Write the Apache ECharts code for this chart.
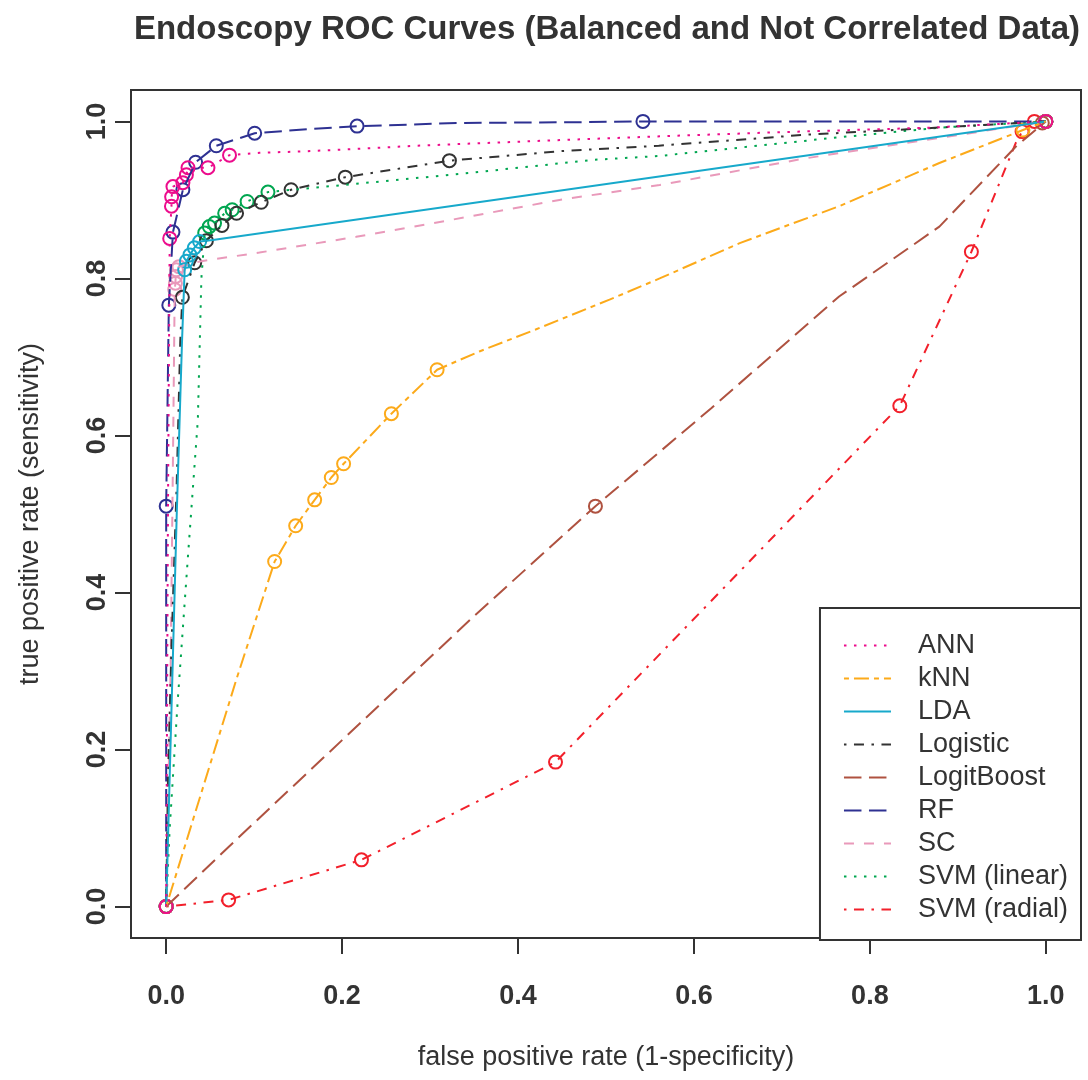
<!DOCTYPE html>
<html>
<head>
<meta charset="utf-8">
<script src="https://cdn.jsdelivr.net/npm/echarts@6/dist/echarts.min.js"></script>
<style>
html,body{margin:0;padding:0;background:#fff;}
#chart{width:1088px;height:1080px;}
</style>
</head>
<body>
<div id="chart"></div>
<script>
// ---- data (false positive rate, true positive rate) ----
const methodNames = ['ANN','kNN','LDA','Logistic','LogitBoost','RF','SC','SVM (linear)','SVM (radial)'];
const tickValues = [0, 0.2, 0.4, 0.6, 0.8, 1.0];

const annCurve = [[0,0],[0.002,0.5],[0.004,0.851],[0.006,0.892],[0.0062,0.904],[0.0077,0.917],[0.019,0.922],[0.023,0.932],[0.0248,0.941],[0.0475,0.941],[0.072,0.957],[0.106,0.96],[0.16,0.962],[0.235,0.966],[0.284,0.969],[0.42,0.975],[0.561,0.981],[0.69,0.986],[0.868,0.992],[1,1]];
const annCircles = [[0,0],[0.004,0.851],[0.006,0.892],[0.0062,0.904],[0.0077,0.917],[0.019,0.922],[0.023,0.932],[0.0248,0.941],[0.0475,0.941],[0.072,0.957],[1,1]];

const knnCurve = [[0,0],[0.04,0.145],[0.08,0.29],[0.1233,0.4395],[0.1472,0.485],[0.1688,0.518],[0.1877,0.5465],[0.2017,0.564],[0.256,0.6277],[0.308,0.6837],[0.356,0.707],[0.42,0.735],[0.504,0.773],[0.561,0.80],[0.652,0.845],[0.765,0.892],[0.879,0.947],[0.974,0.989],[1,1]];
const knnCircles = [[0,0],[0.1233,0.4395],[0.1472,0.485],[0.1688,0.518],[0.1877,0.5465],[0.2017,0.564],[0.256,0.6277],[0.308,0.6837],[0.974,0.989],[1,1]];

const ldaCurve = [[0,0],[0.006,0.25],[0.012,0.5],[0.018,0.72],[0.021,0.811],[0.023,0.822],[0.027,0.830],[0.032,0.839],[0.038,0.847],[0.053,0.849],[1,1]];
const ldaCircles = [[0,0],[0.021,0.811],[0.023,0.822],[0.027,0.830],[0.032,0.839],[0.038,0.847],[1,1]];

const logisticCurve = [[0,0],[0.002,0.16],[0.006,0.33],[0.012,0.54],[0.016,0.72],[0.0184,0.776],[0.0324,0.820],[0.0457,0.848],[0.0634,0.8675],[0.08,0.883],[0.108,0.897],[0.142,0.913],[0.2036,0.929],[0.322,0.95],[0.447,0.962],[0.56,0.969],[0.727,0.983],[0.86,0.991],[1,1]];
const logisticCircles = [[0,0],[0.0184,0.776],[0.0324,0.820],[0.0457,0.848],[0.0634,0.8675],[0.08,0.883],[0.108,0.897],[0.142,0.913],[0.2036,0.929],[0.322,0.95],[1,1]];

const logitBoostCurve = [[0,0],[0.07,0.075],[0.2,0.212],[0.35,0.37],[0.488,0.51],[0.62,0.635],[0.765,0.777],[0.879,0.866],[0.966,0.968],[1,1]];
const logitBoostCircles = [[0,0],[0.488,0.51],[0.996,0.998],[1,1]];

const rfCurve = [[0,0],[0,0.51],[0.003,0.766],[0.0077,0.859],[0.019,0.913],[0.0335,0.948],[0.057,0.969],[0.1006,0.985],[0.16,0.99],[0.217,0.994],[0.28,0.996],[0.33,0.998],[0.47,0.999],[0.542,1.0],[1,1]];
const rfCircles = [[0,0],[0,0.51],[0.003,0.766],[0.0077,0.859],[0.019,0.913],[0.0335,0.948],[0.057,0.969],[0.1006,0.985],[0.217,0.994],[0.542,1.0],[1,1]];

const scCurve = [[0,0],[0.005,0.3],[0.008,0.6],[0.0097,0.786],[0.0105,0.794],[0.0108,0.8025],[0.0116,0.811],[0.0145,0.815],[0.04,0.822],[0.106,0.833],[0.216,0.853],[0.326,0.875],[0.447,0.90],[0.561,0.919],[0.727,0.953],[0.879,0.979],[1,1]];
const scCircles = [[0,0],[0.0097,0.786],[0.0105,0.794],[0.0108,0.8025],[0.0116,0.811],[0.0145,0.815],[1,1]];

const svmLinCurve = [[0,0],[0.004,0.1],[0.013,0.26],[0.025,0.45],[0.036,0.62],[0.04,0.80],[0.042,0.83],[0.0438,0.858],[0.049,0.866],[0.055,0.8705],[0.0665,0.883],[0.075,0.8875],[0.092,0.898],[0.1157,0.910],[0.144,0.913],[0.22,0.921],[0.333,0.933],[0.485,0.951],[0.561,0.956],[0.758,0.979],[0.879,0.992],[1,1]];
const svmLinCircles = [[0,0],[0.0438,0.858],[0.049,0.866],[0.055,0.8705],[0.0665,0.883],[0.075,0.8875],[0.092,0.898],[0.1157,0.910],[1,1]];

const svmRadCurve = [[0,0],[0.071,0.0085],[0.222,0.0595],[0.4426,0.184],[0.834,0.6378],[0.9154,0.834],[0.966,0.973],[0.973,0.987],[0.987,1.0],[1,1]];
const svmRadCircles = [[0,0],[0.071,0.0085],[0.222,0.0595],[0.4426,0.184],[0.834,0.6378],[0.9154,0.834],[0.973,0.987],[0.987,1.0],[1,1]];

// ---- styles ----
const U = 2.5;
const DOTTED = [1*U, 3*U], DASHED = [4*U, 4*U], DOTDASH = [1*U,3*U,4*U,3*U], LONGDASH = [7*U,3*U], TWODASH = [2*U,2*U,6*U,2*U];
const styles = {
  'ANN':          {color:'#EC0C8C', dash:DOTTED},
  'kNN':          {color:'#FCAA1A', dash:TWODASH},
  'LDA':          {color:'#17A9CB', dash:'solid'},
  'Logistic':     {color:'#333333', dash:DOTDASH},
  'LogitBoost':   {color:'#AF5240', dash:LONGDASH},
  'RF':           {color:'#2E3192', dash:LONGDASH},
  'SC':           {color:'#E999BA', dash:DASHED},
  'SVM (linear)': {color:'#00A650', dash:DOTTED},
  'SVM (radial)': {color:'#F2202B', dash:DOTDASH}
};
const curves = {
  'ANN':[annCurve,annCircles], 'kNN':[knnCurve,knnCircles], 'LDA':[ldaCurve,ldaCircles],
  'Logistic':[logisticCurve,logisticCircles], 'LogitBoost':[logitBoostCurve,logitBoostCircles],
  'RF':[rfCurve,rfCircles], 'SC':[scCurve,scCircles], 'SVM (linear)':[svmLinCurve,svmLinCircles],
  'SVM (radial)':[svmRadCurve,svmRadCircles]
};

const FONT = 'Liberation Sans, Arial, Helvetica, sans-serif';
const TXT = '#333333';

const series = [];
methodNames.slice().reverse().forEach(function(n){
  const st = styles[n];
  series.push({
    name: n, type:'line', data: curves[n][0], symbol:'none', smooth:false,
    lineStyle:{color:st.color, width:2, type:st.dash}, itemStyle:{color:st.color},
    animation:false, silent:true
  });
  series.push({
    name: n + ' cutoffs', type:'scatter', data: curves[n][1], symbol:'circle', symbolSize:13,
    itemStyle:{color:'rgba(255,255,255,0)', borderColor:st.color, borderWidth:2, opacity:1},
    animation:false, silent:true
  });
});

const chart = echarts.init(document.getElementById('chart'), null, {renderer:'canvas'});
chart.setOption({
  backgroundColor:'#ffffff',
  animation:false,
  title:{
    text:'Endoscopy ROC Curves (Balanced and Not Correlated Data)',
    left:602, top:8, textAlign:'center',
    textStyle:{fontFamily:FONT, fontSize:33, fontWeight:'bold', color:TXT}
  },
  grid:{left:131, right:7, top:90, bottom:142, show:true, borderColor:TXT, borderWidth:2, backgroundColor:'transparent', containLabel:false},
  xAxis:{
    type:'value', min:-0.04, max:1.04,
    name:'false positive rate (1-specificity)', nameLocation:'middle', nameGap:106,
    nameTextStyle:{fontFamily:FONT, fontSize:27, color:TXT},
    axisLine:{show:false, onZero:false},
    axisTick:{show:true, length:16, lineStyle:{color:TXT, width:2}, customValues:tickValues},
    axisLabel:{customValues:tickValues, formatter:function(v){return v.toFixed(1);}, fontFamily:FONT, fontSize:27, fontWeight:'bold', color:TXT, margin:45, lineHeight:27},
    splitLine:{show:false}
  },
  yAxis:{
    type:'value', min:-0.04, max:1.04,
    name:'true positive rate (sensitivity)', nameLocation:'middle', nameGap:87,
    nameTextStyle:{fontFamily:FONT, fontSize:27, color:TXT},
    axisLine:{show:false, onZero:false},
    axisTick:{show:true, length:16, lineStyle:{color:TXT, width:2}, customValues:tickValues},
    axisLabel:{customValues:tickValues, formatter:function(v){return v.toFixed(1);}, rotate:90, fontFamily:FONT, fontSize:27, fontWeight:'bold', color:TXT, margin:20, lineHeight:27},
    splitLine:{show:false}
  },
  legend:{
    data:methodNames, orient:'vertical', right:7, bottom:140,
    itemWidth:47, itemHeight:2, itemGap:6,
    padding:[24,13,17,23],
    borderColor:TXT, borderWidth:2, backgroundColor:'#ffffff',
    selectedMode:false,
    itemStyle:{opacity:0},
    textStyle:{fontFamily:FONT, fontSize:27, color:TXT, lineHeight:27, padding:[0,0,0,22]}
  },
  series: series
});
</script>
</body>
</html>
